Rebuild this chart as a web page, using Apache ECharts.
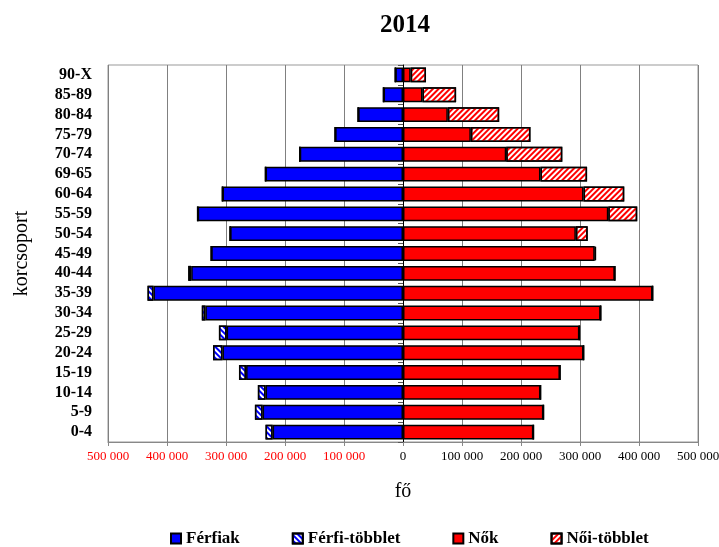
<!DOCTYPE html>
<html>
<head>
<meta charset="utf-8">
<script src="https://cdn.jsdelivr.net/npm/echarts@6/dist/echarts.min.js"></script>
<style>
  html, body { margin: 0; padding: 0; background: #fff; }
  #chart { width: 719px; height: 547px; }
</style>
</head>
<body>
<div id="chart"></div>
<script>
// Age groups (bottom to top)
const categories = ['0-4','5-9','10-14','15-19','20-24','25-29','30-34','35-39','40-44','45-49','50-54','55-59','60-64','69-65','70-74','75-79','80-84','85-89','90-X'];
// Men (common part with women)
const ferfiak = [221000,238000,233000,266000,306000,299000,335000,423000,359000,325000,293000,348000,306000,233000,175000,115000,76000,33000,13000];
// Male surplus
const ferfiTobblet = [12000,13000,13000,12000,16000,13000,6000,10000,5000,0,0,0,0,0,0,0,0,0,0];
// Women (common part with men)
const nok = [221000,238000,233000,266000,306000,299000,335000,423000,359000,325000,293000,348000,306000,233000,175000,115000,76000,33000,13000];
// Female surplus
const noiTobblet = [0,0,0,0,0,0,0,0,0,2000,20000,49000,69000,79000,95000,101000,87000,57000,26000];
// X axis range/ticks
const xMin = -500000, xMax = 500000, xStep = 100000;

const serif = 'Liberation Serif';
const border = { borderColor: '#000', borderWidth: 1.5 };

function fmt(v) {
  return String(Math.abs(Number(v))).replace(/\B(?=(\d{3})+(?!\d))/g, ' ');
}

const gridBox = { left: 108, right: 21, top: 65, bottom: 105, outerBoundsMode: 'none', containLabel: false };

const chart = echarts.init(document.getElementById('chart'), null, { renderer: 'canvas' });
chart.setOption({
  animation: false,
  backgroundColor: '#fff',
  title: {
    text: '2014', left: 375, top: 8,
    textStyle: { fontFamily: serif, fontWeight: 'bold', fontSize: 25, color: '#000' }
  },
  legend: {
    left: 165, top: 525,
    icon: 'rect', itemWidth: 10, itemHeight: 10, itemGap: 52,
    textStyle: { fontFamily: serif, fontWeight: 'bold', fontSize: 17, color: '#000' },
    data: ['Férfiak','Férfi-többlet','Nők','Női-többlet']
  },
  grid: [
    Object.assign({ show: true, borderColor: '#999', borderWidth: 1 }, gridBox),
    Object.assign({ show: false }, gridBox)
  ],
  xAxis: [{
    type: 'value', gridIndex: 0, min: xMin, max: xMax, interval: xStep,
    name: 'fő', nameLocation: 'middle', nameGap: 40,
    nameTextStyle: { fontFamily: serif, fontSize: 20, color: '#000' },
    axisLine: { show: true, lineStyle: { color: '#888' } },
    axisTick: { show: true, length: 4, lineStyle: { color: '#888' } },
    axisLabel: {
      formatter: fmt, margin: 8,
      fontFamily: serif, fontSize: 13,
      color: function (v) { return Number(v) < 0 ? '#ff0000' : '#000'; }
    },
    splitLine: { show: true, lineStyle: { color: '#808080', width: 1 } }
  }, {
    type: 'value', gridIndex: 1, min: xMin, max: xMax, interval: xStep,
    show: false, splitLine: { show: false }
  }],
  yAxis: [{
    type: 'category', gridIndex: 0, data: categories, position: 'left',
    name: 'korcsoport', nameLocation: 'middle', nameGap: 76, nameRotate: 90,
    nameTextStyle: { fontFamily: serif, fontSize: 20, color: '#000' },
    axisLine: { show: false }, axisTick: { show: false },
    axisLabel: { interval: 0, fontFamily: serif, fontWeight: 'bold', fontSize: 16, color: '#000', margin: 16 },
    splitLine: { show: false }
  }, {
    type: 'category', gridIndex: 1, data: categories, position: 'left',
    axisLine: { show: true, onZero: true, lineStyle: { color: '#000', width: 1 } },
    axisTick: { show: true, interval: 0, length: 5, lineStyle: { color: '#555' } },
    axisLabel: { show: false },
    splitLine: { show: false }
  }],
  series: [{
    name: 'Férfiak', type: 'bar', stack: 'm', xAxisIndex: 0, yAxisIndex: 0,
    barWidth: '75%', barGap: '-100%',
    data: ferfiak.map(v => -v),
    itemStyle: Object.assign({ color: '#0000ff' }, border)
  }, {
    name: 'Férfi-többlet', type: 'bar', stack: 'm', xAxisIndex: 0, yAxisIndex: 0,
    barWidth: '75%', barGap: '-100%',
    data: ferfiTobblet.map(v => -v),
    itemStyle: Object.assign({
      color: '#fff',
      decal: { symbol: 'rect', symbolSize: 1, color: '#0000ff', dashArrayX: [1, 0], dashArrayY: [2, 1.8], rotation: Math.PI / 4 }
    }, border)
  }, {
    name: 'Nők', type: 'bar', stack: 'f', xAxisIndex: 0, yAxisIndex: 0,
    barWidth: '75%', barGap: '-100%',
    data: nok,
    itemStyle: Object.assign({ color: '#ff0000' }, border)
  }, {
    name: 'Női-többlet', type: 'bar', stack: 'f', xAxisIndex: 0, yAxisIndex: 0,
    barWidth: '75%', barGap: '-100%',
    data: noiTobblet,
    itemStyle: Object.assign({
      color: '#fff',
      decal: { symbol: 'rect', symbolSize: 1, color: '#ff0000', dashArrayX: [1, 0], dashArrayY: [2, 1.8], rotation: -Math.PI / 4 }
    }, border)
  }]
});
</script>
</body>
</html>
